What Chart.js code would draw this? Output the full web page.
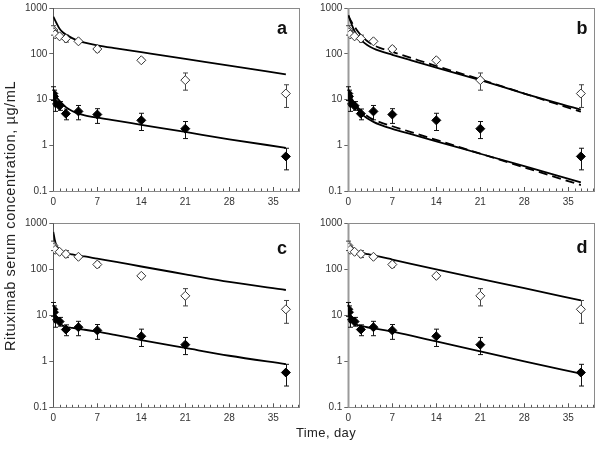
<!DOCTYPE html>
<html><head><meta charset="utf-8">
<script src="https://cdn.jsdelivr.net/npm/chart.js@4.4.1/dist/chart.umd.min.js"></script>
<style>
html,body{margin:0;padding:0;background:#fff;width:603px;height:452px;overflow:hidden;}
canvas{position:absolute;left:0;top:0;}
.lbl{position:absolute;font-family:Arial,"Liberation Sans",sans-serif;color:#222;white-space:nowrap;text-align:center;}
.letter{position:absolute;font-family:Arial,"Liberation Sans",sans-serif;font-weight:bold;font-size:18px;color:#111;width:20px;height:20px;line-height:20px;text-align:center;}
</style></head><body>
<canvas id="pa" width="603" height="452"></canvas>
<canvas id="pb" width="603" height="452"></canvas>
<canvas id="pc" width="603" height="452"></canvas>
<canvas id="pd" width="603" height="452"></canvas>
<div class="lbl" id="ylab" style="left:-190px;top:206px;width:400px;height:20px;line-height:20px;font-size:14.5px;letter-spacing:0.6px;transform:rotate(-90deg);">Rituximab serum concentration, µg/mL</div>
<div class="lbl" style="left:226px;top:424px;width:200px;height:18px;line-height:18px;font-size:13px;letter-spacing:0.4px;">Time, day</div>
<div class="letter" style="left:272px;top:18px;">a</div>
<div class="letter" style="left:572px;top:18px;">b</div>
<div class="letter" style="left:272px;top:238px;">c</div>
<div class="letter" style="left:572px;top:237px;">d</div>
<script>
// ---- axis ticks ----
const xTicks = [0, 7, 14, 21, 28, 35];
const xTickLabels = ['0', '7', '14', '21', '28', '35'];
const yTicks = [0.1, 1, 10, 100, 1000];
const yTickLabels = ['0.1', '1', '10', '100', '1000'];

// ---- observed data (same in all panels) ----
const dataTime   = [0, 0.1, 0.3, 1, 2, 4, 7, 14, 21, 37];
const openConc   = [330, 295, 265, 240, 215, 187, 127, 72, 26.5, 13.5];
const openLow    = [255, null, null, null, 180, null, 110, 65, 16, 6.7];
const openHigh   = [410, null, null, null, 255, null, 145, 80, 38, 21];
const filledConc = [13.5, 11.7, 8.4, 7.3, 4.9, 5.5, 4.7, 3.5, 2.3, 0.57];
const filledLow  = [9.5, 8, 5.5, 5.8, 3.6, 3.6, 3.0, 2.1, 1.4, 0.29];
const filledHigh = [19, 16, 11.5, 9, 6.2, 7.4, 6.3, 5.0, 3.3, 0.86];

// ---- model curves ----
const fitTime = [0, 0.25, 0.5, 1, 1.5, 2, 3, 4, 5, 7, 10, 14, 21, 28, 37];
const aHigh = [650, 550, 470, 350, 295, 262, 220, 192, 175, 153, 131, 108, 77, 54.8, 35.5];
const aLow  = [13.5, 12.3, 11.2, 9.3, 7.9, 6.8, 5.6, 4.9, 4.5, 4.0, 3.45, 2.8, 1.95, 1.35, 0.88];
const bHighSolid  = [700, 560, 450, 310, 240, 200, 155, 130, 115, 95, 72, 50, 26.5, 13.5, 6.0];
const bHighDashed = [680, 580, 500, 390, 310, 255, 190, 155, 135, 110, 81, 54, 27.5, 13.5, 5.4];
const bLowSolid   = [13.3, 11.6, 10, 7.6, 6.0, 5.0, 3.9, 3.24, 2.82, 2.29, 1.75, 1.22, 0.652, 0.348, 0.155];
const bLowDashed  = [13.2, 12.0, 10.7, 8.3, 6.75, 5.6, 4.37, 3.63, 3.2, 2.6, 1.94, 1.31, 0.655, 0.328, 0.135];
const cHigh = [650, 430, 330, 265, 240, 225, 210, 198, 190, 170, 145, 115, 78, 53, 35.5];
const cLow  = [13, 10.5, 8.5, 6.8, 6.0, 5.6, 5.3, 5.05, 4.85, 4.4, 3.7, 2.9, 1.95, 1.32, 0.87];
const dHigh = [262, 257, 252, 247, 240, 232, 215, 200, 188, 163, 132, 100, 62, 39, 21];
const dLow  = [8.5, 7.8, 7.2, 6.5, 6.1, 5.9, 5.5, 5.2, 4.95, 4.4, 3.6, 2.7, 1.65, 1.0, 0.54];

const X_MAX = 39.2;
const FONT = 'Arial, "Liberation Sans", sans-serif';

function pts(xs, ys) { return xs.map((x, i) => ({x: x, y: ys[i]})); }

const errorBarPlugin = {
  id: 'errbars',
  beforeDatasetsDraw(chart) {
    const {ctx} = chart; const x = chart.scales.x, y = chart.scales.y;
    chart.data.datasets.forEach(ds => {
      if (!ds.errLow) return;
      ctx.save(); ctx.strokeStyle = ds.errColor; ctx.lineWidth = 1;
      ds.data.forEach((p, i) => {
        const lo = ds.errLow[i], hi = ds.errHigh[i];
        if (lo == null) return;
        const px = Math.round(x.getPixelForValue(p.x)) + 0.5;
        const yl = y.getPixelForValue(lo), yh = y.getPixelForValue(hi);
        ctx.beginPath();
        ctx.moveTo(px, yl); ctx.lineTo(px, yh);
        ctx.moveTo(px - 2.5, yl); ctx.lineTo(px + 2.5, yl);
        ctx.moveTo(px - 2.5, yh); ctx.lineTo(px + 2.5, yh);
        ctx.stroke();
      });
      ctx.restore();
    });
  }
};

const framePlugin = {
  id: 'frame',
  beforeDatasetsDraw(chart, args, opts) {
    const {ctx, chartArea: a} = chart; const x = chart.scales.x;
    ctx.save();
    ctx.strokeStyle = '#8a8a8a'; ctx.lineWidth = 1;
    ctx.strokeRect(Math.round(a.left) + 0.5, Math.round(a.top) + 0.5, Math.round(a.right - a.left), Math.round(a.bottom - a.top));
    ctx.strokeStyle = '#555';
    ctx.beginPath();
    for (let d = 1; d < X_MAX; d++) {
      const px = Math.round(x.getPixelForValue(d)) + 0.5;
      const len = (d % 7 === 0) ? 4 : 2.5;
      ctx.moveTo(px, a.bottom); ctx.lineTo(px, a.bottom - len);
    }
    ctx.stroke();
    ctx.strokeStyle = opts.axisColor; ctx.lineWidth = opts.axisWidth;
    ctx.beginPath();
    ctx.moveTo(Math.round(a.left) + 0.5, a.top); ctx.lineTo(Math.round(a.left) + 0.5, a.bottom);
    ctx.stroke();
    ctx.restore();
  }
};

function makePanel(id, box, curves, axisColor, axisWidth) {
  const datasets = [
    {data: pts(dataTime, filledConc), errLow: filledLow, errHigh: filledHigh, errColor: '#111',
     pointStyle: 'rectRot', pointRadius: 4.5, backgroundColor: '#000', borderColor: '#000', borderWidth: 1, showLine: false},
    {data: pts(dataTime, openConc), errLow: openLow, errHigh: openHigh, errColor: '#444',
     pointStyle: 'rectRot', pointRadius: 4.5, backgroundColor: '#fff', borderColor: '#333', borderWidth: 1, showLine: false}
  ];
  curves.forEach(c => datasets.push({
    data: pts(fitTime, c.values), showLine: true, pointRadius: 0, borderColor: '#000',
    borderWidth: 1.8, borderDash: c.dash || [], cubicInterpolationMode: 'monotone', fill: false
  }));
  const yW = 40, xH = 20;
  new Chart(document.getElementById(id), {
    type: 'scatter',
    data: {datasets},
    options: {
      responsive: false, animation: false, devicePixelRatio: 1,
      layout: {autoPadding: false, padding: {left: box.left - yW, right: 603 - box.right, top: box.top, bottom: 452 - box.bottom - xH}},
      plugins: {legend: {display: false}, tooltip: {enabled: false}, frame: {axisColor, axisWidth}},
      scales: {
        x: {type: 'linear', min: 0, max: X_MAX,
            afterBuildTicks: s => { s.ticks = xTicks.map(v => ({value: v})); },
            afterFit: s => { s.height = xH; },
            grid: {display: false, drawTicks: false}, border: {display: false},
            ticks: {padding: 5, font: {family: FONT, size: 10}, color: '#333', maxRotation: 0,
                    callback: (v, i) => xTickLabels[i]}},
        y: {type: 'logarithmic', min: 0.1, max: 1000,
            afterBuildTicks: s => { s.ticks = yTicks.map(v => ({value: v})); },
            afterFit: s => { s.width = yW; },
            grid: {display: true, drawOnChartArea: false, drawTicks: true, tickLength: 4, color: '#666'},
            border: {display: false},
            ticks: {padding: 2, font: {family: FONT, size: 10}, color: '#333',
                    callback: (v, i) => yTickLabels[i]}}
      }
    },
    plugins: [framePlugin, errorBarPlugin]
  });
}

makePanel('pa', {left: 53.3, right: 299.7, top: 7.5, bottom: 191},
  [{values: aHigh}, {values: aLow}], '#555', 1);
makePanel('pb', {left: 348.3, right: 594.7, top: 7.5, bottom: 191},
  [{values: bHighSolid}, {values: bHighDashed, dash: [9, 5]}, {values: bLowSolid}, {values: bLowDashed, dash: [9, 5]}], '#9a9a9a', 2);
makePanel('pc', {left: 53.3, right: 299.7, top: 223.3, bottom: 407.3},
  [{values: cHigh}, {values: cLow}], '#555', 1);
makePanel('pd', {left: 348.3, right: 594.7, top: 223.3, bottom: 407.3},
  [{values: dHigh}, {values: dLow}], '#9a9a9a', 2);
</script>
</body></html>
